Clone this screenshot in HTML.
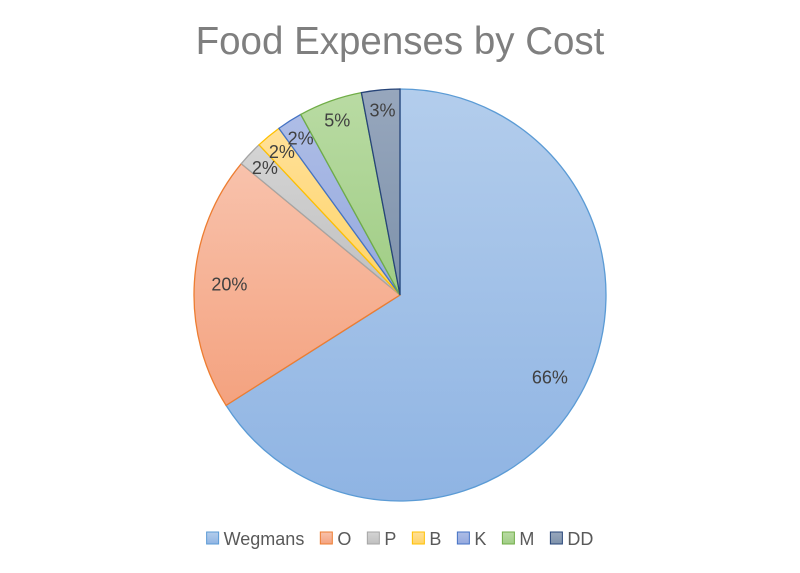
<!DOCTYPE html>
<html><head><meta charset="utf-8"><style>
body{margin:0;width:800px;height:568px;background:#fff;overflow:hidden;font-family:"Liberation Sans",sans-serif}
</style></head><body>
<svg id="chart" width="800" height="568" viewBox="0 0 800 568" xmlns="http://www.w3.org/2000/svg">
<defs></defs>
<text x="400" y="54" text-anchor="middle" font-size="38.5" fill="#7f7f7f" font-family="Liberation Sans, sans-serif">Food Expenses by Cost</text>
<g id="slices"></g><g id="labels"></g><g id="legend"></g>
</svg>
<script>
const categories=["Wegmans","O","P","B","K","M","DD"];
const values=[66,20,2,2,2,5,3];
const fillsA=["#b3cdec","#f8c2ac","#d4d4d4","#ffe099","#aebde6","#b9dba3","#97a7bd"];
const fillsB=["#8fb4e3","#f4a27f","#c0c0c0","#ffd466","#94a9de","#a0cd85","#7e92ab"];
const strokes=["#5b9bd5","#ed7d31","#a5a5a5","#ffc000","#4472c4","#70ad47","#264478"];
const NS="http://www.w3.org/2000/svg";
const svg=document.getElementById('chart');
const defs=svg.querySelector('defs');
const cx=400,cy=295,r=206;
const total=values.reduce((a,b)=>a+b,0);
function pt(a,rr){return [cx+rr*Math.sin(a),cy-rr*Math.cos(a)];}
let start=0;
const sg=document.getElementById('slices'),lg=document.getElementById('labels');
values.forEach((v,i)=>{
  const gid='g'+i;
  const gr=document.createElementNS(NS,'linearGradient');
  gr.setAttribute('id',gid);gr.setAttribute('x1','0');gr.setAttribute('y1','0');gr.setAttribute('x2','0');gr.setAttribute('y2','1');
  gr.innerHTML=`<stop offset="0" stop-color="${fillsA[i]}"/><stop offset="1" stop-color="${fillsB[i]}"/>`;
  defs.appendChild(gr);
  const ang=v/total*2*Math.PI,end=start+ang;
  const [x1,y1]=pt(start,r),[x2,y2]=pt(end,r);
  const p=document.createElementNS(NS,'path');
  p.setAttribute('d',`M${cx},${cy}L${x1},${y1}A${r},${r} 0 ${ang>Math.PI?1:0} 1 ${x2},${y2}Z`);
  p.setAttribute('fill',`url(#${gid})`);p.setAttribute('stroke',strokes[i]);p.setAttribute('stroke-width','1.3');
  
  
  sg.appendChild(p);
  const mid=start+ang/2;
  const lr=v>=10?r*0.83:r*0.9;
  const [lx,ly]=pt(mid,lr);
  const t=document.createElementNS(NS,'text');
  t.setAttribute('x',lx);t.setAttribute('y',ly+6);t.setAttribute('text-anchor','middle');
  t.setAttribute('font-size','18');t.setAttribute('fill','#404040');
  t.textContent=Math.round(v/total*100)+'%';
  
  
  lg.appendChild(t);
  start=end;
});
// legend
const leg=document.getElementById('legend');
const groups=[];
categories.forEach((c,i)=>{
  const g=document.createElementNS(NS,'g');
  
  
  g.innerHTML=`<rect x="0" y="532" width="12" height="12" fill="url(#g${i})" stroke="${strokes[i]}" stroke-width="1"/><text x="17" y="545" font-size="18" fill="#595959">${c}</text>`;
  leg.appendChild(g);
  groups.push(g);
});
const ws=groups.map(g=>17+g.querySelector('text').getComputedTextLength()+16);
const tw=ws.reduce((a,b)=>a+b,0)-16;
let x=400-tw/2;
groups.forEach((g,i)=>{g.setAttribute('transform',`translate(${x},0)`);x+=ws[i];});
</script>
</body></html>
